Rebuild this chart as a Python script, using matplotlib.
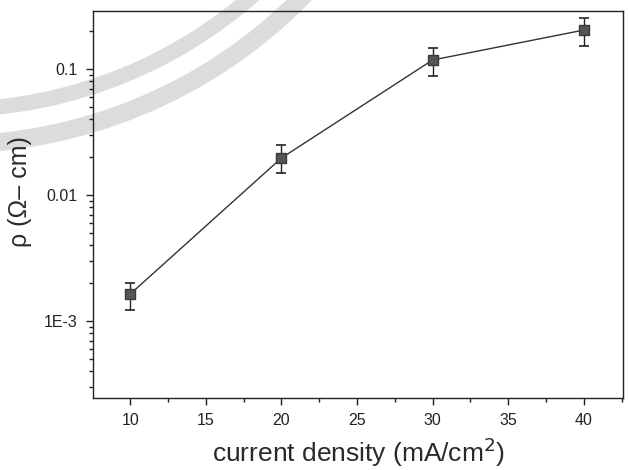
import matplotlib
matplotlib.use("Agg")
import matplotlib.pyplot as plt
from matplotlib.patches import Arc
from matplotlib.ticker import FixedLocator, MultipleLocator, LogLocator, NullFormatter, FixedFormatter

plt.rcParams['font.family'] = ['Liberation Sans', 'DejaVu Sans']

# Resistivity vs. plating current density
current_density = [10, 20, 30, 40]
resistivity = [1.64e-3, 0.0197, 0.118, 0.204]
err_low = [1.22e-3, 0.0150, 0.088, 0.152]
err_high = [2.0e-3, 0.0249, 0.147, 0.254]

y_ticks = [1e-3, 1e-2, 1e-1]
y_tick_labels = ["1E-3", "0.01", "0.1"]
x_ticks = [10, 15, 20, 25, 30, 35, 40]

fig = plt.figure(figsize=(6.3, 4.7), dpi=100)

# faint circular seal in the background (pixel coordinates)
for diam, lw in [(989, 13), (919, 11)]:
    arc = Arc((-50, 470 + 350), diam, diam, theta1=270, theta2=360,
              transform=None, color="#dcdcdc", lw=lw, zorder=0)
    fig.add_artist(arc)

ax = fig.add_axes([0.148, 0.153, 0.841, 0.824])
ax.set_facecolor("none")

yerr = [[v - lo for v, lo in zip(resistivity, err_low)],
        [hi - v for v, hi in zip(resistivity, err_high)]]
ax.errorbar(current_density, resistivity, yerr=yerr, fmt='-s', color="#333333",
            lw=1.0, ms=7.5, mfc="#555555", mec="#3a3a3a", ecolor="#222222",
            elinewidth=1.0, capsize=3.5, capthick=1.2, zorder=3)

ax.set_yscale('log')
ax.set_xlim(7.55, 42.6)
ax.set_ylim(2.45e-4, 0.29)

ax.xaxis.set_major_locator(FixedLocator(x_ticks))
ax.xaxis.set_minor_locator(MultipleLocator(2.5))
ax.yaxis.set_major_locator(FixedLocator(y_ticks))
ax.yaxis.set_major_formatter(FixedFormatter(y_tick_labels))
ax.yaxis.set_minor_locator(LogLocator(base=10, subs=range(2, 10)))
ax.yaxis.set_minor_formatter(NullFormatter())

ax.tick_params(which='major', direction='out', length=5, width=1.0, pad=6,
               labelsize=11.5, colors="#222222", top=False, right=False)
ax.tick_params(which='minor', direction='out', length=3, width=1.0,
               top=False, right=False, colors="#222222")
for s in ax.spines.values():
    s.set_linewidth(1.0)
    s.set_color("#222222")

ax.set_xlabel("current density (mA/cm$^2$)", fontsize=19, color="#2a2a2a", labelpad=5)
ax.set_ylabel("ρ (Ω– cm)", fontsize=18, color="#2a2a2a")
ax.yaxis.set_label_coords(-0.115, 0.534)

fig.savefig("out.png", dpi=100)
